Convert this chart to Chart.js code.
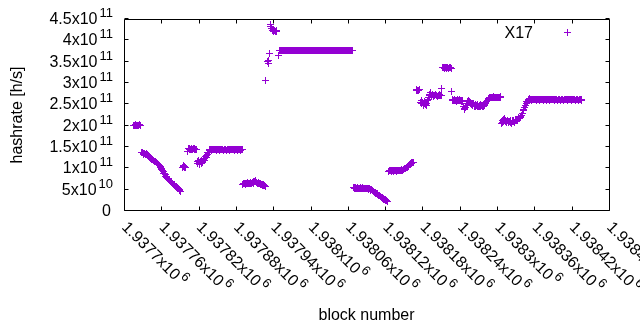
<!DOCTYPE html>
<html>
<head>
<meta charset="utf-8">
<script src="https://cdn.jsdelivr.net/npm/chart.js@4/dist/chart.umd.min.js"></script>
<style>
  html, body { margin: 0; padding: 0; background: #ffffff; }
  canvas { display: block; }
</style>
</head>
<body>
<canvas id="c" width="640" height="330"></canvas>
<script>
// ---- data: hashrate in units of 1e9 h/s, consecutive block runs ----
const seriesLabel = 'X17';
const segStarts = [1937715, 1937728, 1937794, 1937802, 1937818, 1937838, 1937891, 1937928,
                   1937950, 1938069, 1938126, 1938170, 1938177, 1938213, 1938227, 1938307, 1938353];
const seg01 = [201,200,200,201,202,200,201,200,201,200,202,201];
const seg02 = [138,137,138, 134,133,135,133,132,134,133,131,130, 127,125,126,124,122,121,
               120,118,119,117,116,115,114, 113,111,110,108,106,104, 102,100,97,95,92,89,
               87,85,82,80,78,76, 74,73,71,70,69,68, 66,65,63,62,61,60, 58,57,55,54,53,52,50,48,46];
const seg03 = [101,104,106,103,105,102];
const seg04 = [139,null,146,145,147,145,146,144,145,147,146,145,146,145,144];
const seg05 = [116,112,118,113,110,115,119,111,117,114,121,118,124,127,125,130,133,136,138,141];
const seg06 = [143,144,143,142,143,144,143,143,144,143, 142,143,144,143,143,142,143,144,143,143,
               144,143,142,143,143,144,143,142,143,144, 143,143,142,143,144,143,143,144,143,142,
               143,143,144,143,142,143,144,143,143,142, 143,144,143];
const seg07 = [63,64,65,64,63,64,65,64,66,65, 64,65,66,65,64,66,67,65,68,70,
               72,69,66,65,64,65,66,64,65,63, 62,61,60,62,59,60,58];
const seg08 = [306,null,null,350,346,352,369,436,433,428,null,424,422,421,423,420,421,422,421,null,364];
const seg09 = [376,377,376,375,376,376,377,376,375,376, 376,377,376,376,375,376,377,376,376,375,
               376,376,377,376,375,376,376,377,376,375, 376,377,376,376,375,376,377,376,375,376,
               376,376,377,376,376,375,376,377,376,376, 375,376,377,376,376,375,376,376,377,376,
               376,375,376,377,376,376,375,376,377,376, 376,376,375,376,377,376,375,376,376,377,
               376,375,376,376,377,376,376,375,376,377, 376,376,375,376,377,376,376,375,376,376,
               377,376,375,376,376,377,376,375,376,376, 377,376,375,376,376,377,376,375,376];
const seg10 = [55,54,53,54,53,52,53,54,53,52, 53,54,53,52,53,54,53,52,53,53, 52,53,52,53,52,51,52,50,49,50,49,
               47,46,45,44,43,41,40,40,38,37,36,36,34,33,32,31,30,30,28,27,26,25,24,23,22];
const seg11 = [93,94,95,94,93,94,95,94,93,94,95,96,94,93,94,95,94,95,96,95,96,97,96,97,98,
               99,100,99,101,103,102,104,106,108,110,111,112,113,114,113];
const seg12 = [282,284,283,282,283,284];
const seg13 = [255,252,258,254,250,248,253,256,249,247, 252,258,262,266,270,274,277,271,270,272,
               270,269,271,270,272,271,270,269,271,270, 272,271,270,271,286];
const seg14 = [336,337,335,336,337,336,335,337,336,335,336,337,336,335];
const seg15 = [279,
               262,260,258,259,261,260,257,259,262,260,258,259,261,260,258,256,259,257,
               245,240,238,243,242,248,252,
               256,258,255,257,254,252,250,253,248,251,
               248,246,249,245,247,250,246,244,248,246,249,245,247,244,248,246,250,248,252,254,
               256,258,260,262,264,265,
               266,267,266,265,267,266,268,266,265,267,266,267,266,265,266,267,266,268];
const seg16 = [204,207,212,210,214,216, 212,210,208,211,213,209,207,210,212,208,206,209,211,213,
               210,208,211,214,212,215,213,216,218,217, 219,221,224,223,228,238,236,
               242,248,247,252,256,254,258,262,264];
const seg17 = [261,262,261,260,261,262,261,261,262,261, 260,261,262,261,261,260,261,262,261,261,
               262,261,260,261,261,262,261,260,261,262, 261,261,260,261,262,261,261,262,261,260,
               261,261,262,261,260,261,262,261,261,260, 261,262,261,261,260,261,262,261,261,262,
               261,260,261,261,262,261,260,261,262,261, 261,262,261,260,261,261,262,261,260,261,
               262,261,261,260];
const segValues = [seg01, seg02, seg03, seg04, seg05, seg06, seg07, seg08, seg09,
                   seg10, seg11, seg12, seg13, seg14, seg15, seg16, seg17];

// ---- axes ----
const xMin = 1937700, xMax = 1938480;
const yMin = 0, yMax = 4.5e11;
const xTickValues = [1937700,1937760,1937820,1937880,1937940,1938000,1938060,1938120,1938180,1938240,1938300,1938360,1938420,1938480];
const xTickMantissas = ['1.9377','1.93776','1.93782','1.93788','1.93794','1.938','1.93806','1.93812','1.93818','1.93824','1.9383','1.93836','1.93842','1.93848'];
const xTickExponents = ['6','6','6','6','6','6','6','6','6','6','6','6','6','6'];
const yTickValues = [0,5e10,1e11,1.5e11,2e11,2.5e11,3e11,3.5e11,4e11,4.5e11];
const yTickMantissas = ['0','5','1','1.5','2','2.5','3','3.5','4','4.5'];
const yTickExponents = ['','10','11','11','11','11','11','11','11','11'];
const xTitle = 'block number';
const yTitle = 'hashrate [h/s]';

const points = [];
segStarts.forEach((start, i) => {
  segValues[i].forEach((v, j) => {
    if (v !== null) points.push({ x: start + j, y: v * 1e9 });
  });
});

const COLOR = '#9400d3';
const FONT = '"Liberation Sans", Arial, Helvetica, sans-serif';

const gnuplotFrame = {
  id: 'gnuplotFrame',
  beforeDatasetsDraw(chart) {
    // snap the library-computed point positions to pixel centres for crisp 1px crosses
    chart.getSortedVisibleDatasetMetas().forEach(meta => {
      meta.data.forEach(el => {
        el.x = Math.floor(el.x) + 0.5;
        el.y = Math.floor(el.y) + 0.5;
      });
    });
    const ctx = chart.ctx;
    const a = chart.chartArea;
    const xs = chart.scales.x, ys = chart.scales.y;
    ctx.save();
    ctx.strokeStyle = '#000';
    ctx.lineWidth = 1;
    const L = a.left + 0.5, R = a.right + 0.5, T = a.top + 0.5, B = a.bottom - 0.5;
    ctx.beginPath();
    ctx.moveTo(L, T); ctx.lineTo(R, T); ctx.lineTo(R, B); ctx.lineTo(L, B); ctx.closePath();
    yTickValues.forEach(v => {
      const py = Math.round(ys.getPixelForValue(v)) - 0.5;
      ctx.moveTo(L, py); ctx.lineTo(L + 4, py);
      ctx.moveTo(R, py); ctx.lineTo(R - 4, py);
    });
    xTickValues.forEach(v => {
      const px = Math.round(xs.getPixelForValue(v)) + 0.5;
      ctx.moveTo(px, B); ctx.lineTo(px, B - 4);
      ctx.moveTo(px, T); ctx.lineTo(px, T + 4);
    });
    ctx.stroke();

    ctx.fillStyle = '#000';
    yTickValues.forEach((v, i) => {
      const py = ys.getPixelForValue(v);
      const m = yTickMantissas[i], e = yTickExponents[i];
      ctx.textBaseline = 'alphabetic';
      ctx.textAlign = 'right';
      if (!e) {
        ctx.font = '16px ' + FONT;
        ctx.fillText(m, 111, py + 5);
      } else {
        ctx.font = '13px ' + FONT;
        const ew = ctx.measureText(e).width;
        ctx.fillText(e, 113, py - 2);
        ctx.font = '16px ' + FONT;
        ctx.fillText(m + 'x10', 113 - ew - 2, py + 5);
      }
    });
    xTickValues.forEach((v, i) => {
      const px = xs.getPixelForValue(v);
      ctx.save();
      ctx.translate(px + 1, 224);
      ctx.rotate(Math.PI / 4);
      ctx.textAlign = 'left';
      ctx.textBaseline = 'alphabetic';
      ctx.font = '16px ' + FONT;
      const txt = xTickMantissas[i] + 'x10';
      const w = ctx.measureText(txt).width;
      ctx.fillText(txt, 0, 5.5);
      ctx.font = '13px ' + FONT;
      ctx.fillText(xTickExponents[i], w + 2, -1.5);
      ctx.restore();
    });
    ctx.font = '16px ' + FONT;
    ctx.textAlign = 'center';
    ctx.textBaseline = 'alphabetic';
    ctx.fillText(xTitle, (a.left + a.right) / 2, 320);
    ctx.save();
    ctx.translate(22, (a.top + a.bottom) / 2);
    ctx.rotate(-Math.PI / 2);
    ctx.fillText(yTitle, 0, 0);
    ctx.restore();
    ctx.textAlign = 'right';
    ctx.fillText(chart.data.datasets[0].label, 533, 37.5);
    ctx.strokeStyle = COLOR;
    Chart.helpers.drawPoint(ctx, { pointStyle: 'cross', radius: 3.5, rotation: 0, borderWidth: 1 }, 567.5, 32.5);
    ctx.restore();
  }
};

new Chart(document.getElementById('c').getContext('2d'), {
  type: 'scatter',
  data: {
    datasets: [{
      label: seriesLabel,
      data: points,
      pointStyle: 'cross',
      pointRadius: 3.5,
      pointHoverRadius: 3.5,
      pointBorderWidth: 1,
      borderWidth: 1,
      borderColor: COLOR,
      pointBorderColor: COLOR,
      backgroundColor: COLOR,
      showLine: false
    }]
  },
  options: {
    responsive: false,
    animation: false,
    devicePixelRatio: 1,
    events: [],
    layout: { padding: { left: 124, right: 31, top: 19, bottom: 119 } },
    scales: {
      x: { type: 'linear', display: false, min: xMin, max: xMax },
      y: { type: 'linear', display: false, min: yMin, max: yMax }
    },
    plugins: { legend: { display: false }, tooltip: { enabled: false } }
  },
  plugins: [gnuplotFrame]
});
</script>
</body>
</html>
